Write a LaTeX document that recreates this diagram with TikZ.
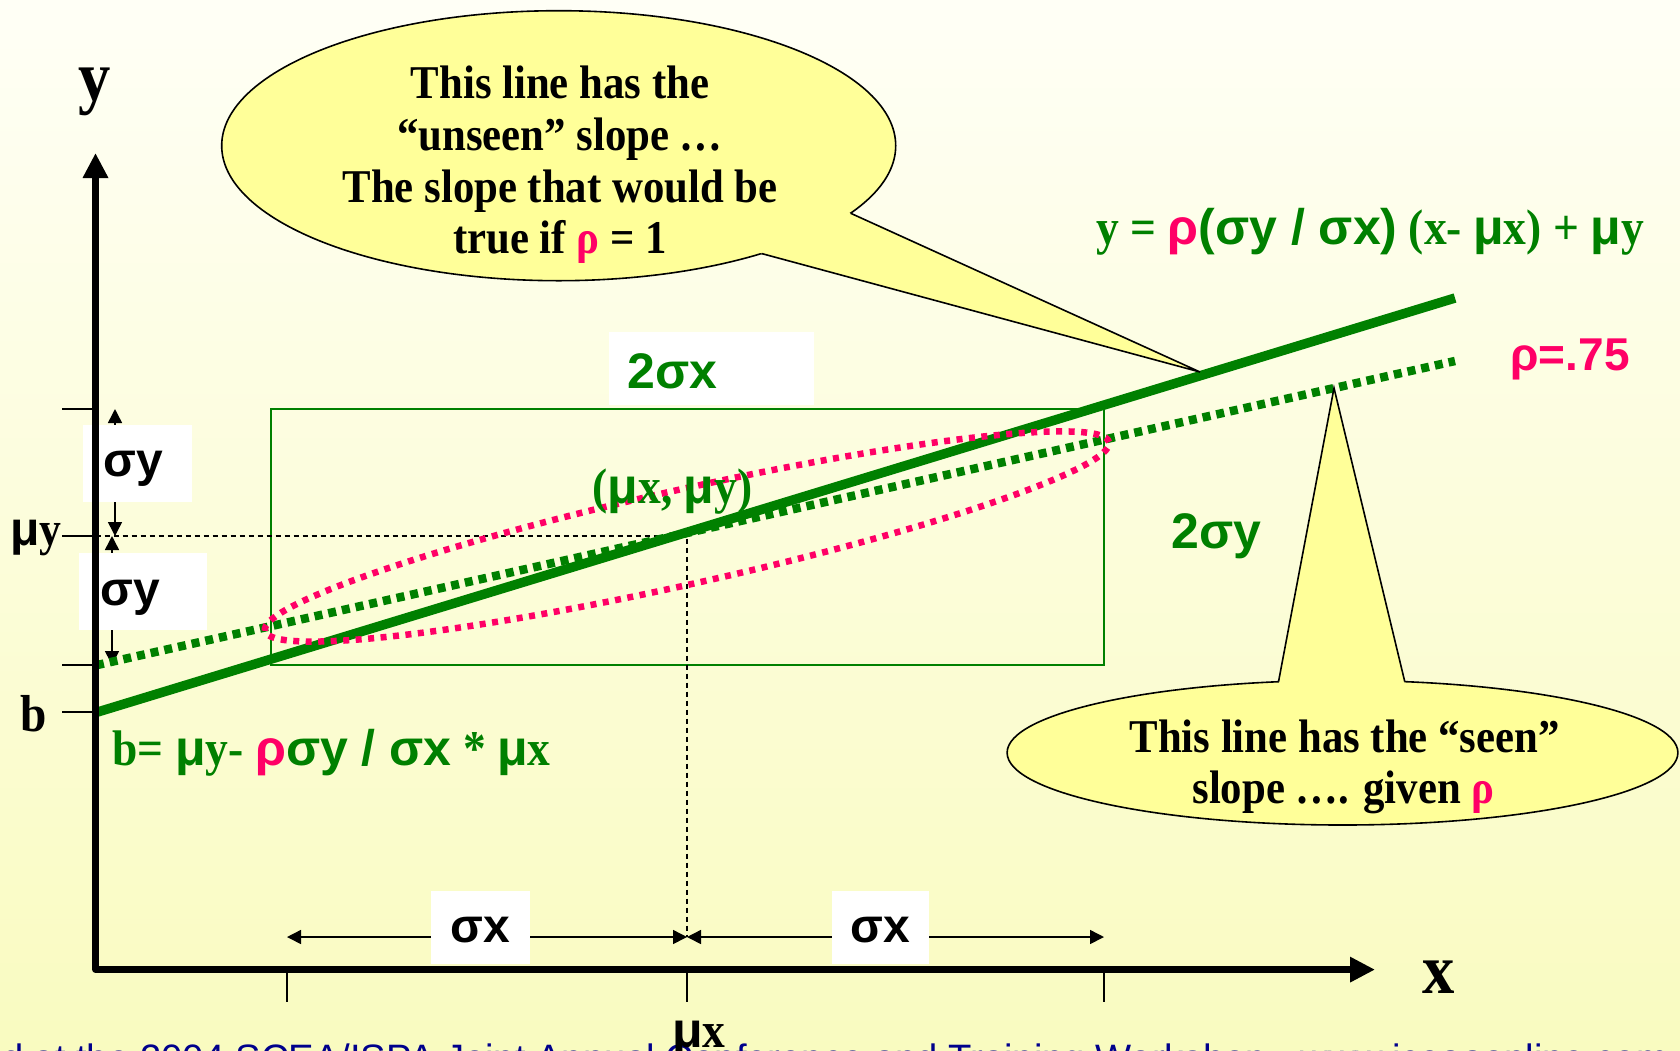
\documentclass[tikz,border=0pt]{standalone}
\usepackage{fontspec}
\setmainfont{Liberation Serif}[FakeStretch=0.91]
\setsansfont{Liberation Sans}
\usetikzlibrary{arrows.meta}
\definecolor{grn}{RGB}{0,128,0}
\definecolor{pnk}{RGB}{255,0,102}
\definecolor{calloutfill}{RGB}{255,255,153}
\definecolor{footblue}{RGB}{0,0,140}
\definecolor{bgtop}{RGB}{255,255,246}
\definecolor{bgbot}{RGB}{249,251,192}
\newcommand\fsz[1]{\fontsize{#1}{#1}\selectfont}
\newcommand\smu{{\sffamily μ}}
\begin{document}
\begin{tikzpicture}[x=1pt,y=-1pt,
  tickline/.style={line width=1.5pt},
  dimarrow/.style={line width=1.5pt,{Triangle[length=14pt,width=14pt]}-{Triangle[length=14pt,width=14pt]}},
  guide/.style={line width=1.4pt,dash pattern=on 5pt off 4pt},
  whitebox/.style={fill=white,draw=none},
  lbl/.style={inner sep=0pt,anchor=base},
  lblw/.style={inner sep=0pt,anchor=base west},
  sanslbl/.style={font=\sffamily\bfseries\fsz{48}},
  greenlbl/.style={text=grn,font=\bfseries\fsz{50}},
  calltext/.style={lbl,font=\bfseries\fsz{47}},
  calloutshape/.style={fill=calloutfill,draw=black,line width=1.6pt},
  axisline/.style={line width=6.5pt,line join=round,{Triangle[length=25pt,width=24pt]}-{Triangle[length=25pt,width=24pt]}},
  solidfit/.style={grn,line width=9.5pt},
  dotfit/.style={grn,line width=8.5pt,dash pattern=on 8pt off 6pt},
  pinkdot/.style={pnk,line width=6.5pt,dash pattern=on 6pt off 6.5pt}
]
\useasboundingbox (0,0) rectangle (1680,1050);
\clip (0,0) rectangle (1680,1050);
\shade[top color=bgtop,bottom color=bgbot] (0,0) rectangle (1680,1050);

% footer
\node[lblw,font=\sffamily\fsz{38.2},text=footblue] (footer) at (-151,1071)
  {Presented at the 2004 SCEA/ISPA Joint Annual Conference and Training Workshop - www.iceaaonline.com};

% coordinates
\coordinate (O) at (95.5,969.6);
\coordinate (ytip) at (95.5,153);
\coordinate (xtip) at (1375,969.6);
\coordinate (m) at (687,536.5);
\coordinate (myax) at (95.5,536);
\coordinate (mx) at (687,536);
\coordinate (mxb) at (687,937);

% green rectangle
\draw[grn,line width=2pt] (271,409) rectangle (1104,665);

% guides
\draw[guide] (myax) -- (mx) -- (mxb);

% sigma x arrows
\coordinate (ax1) at (287,937);
\coordinate (ax2) at (687,937);
\coordinate (ax3) at (1104,937);
\draw[dimarrow] (ax1) -- (ax2);
\draw[dimarrow] (ax2) -- (ax3);
% sigma y arrows
\coordinate (ay1) at (115,409);
\coordinate (ay2) at (115,536);
\coordinate (ay3) at (112,536);
\coordinate (ay4) at (112,665);
\draw[dimarrow] (ay1) -- (ay2);
\draw[dimarrow] (ay3) -- (ay4);

% white boxes and labels
\fill[whitebox] (83.3,425) rectangle (191.7,501.7);
\fill[whitebox] (79,553.3) rectangle (207.3,630);
\fill[whitebox] (430.7,891.4) rectangle (530.4,964.3);
\fill[whitebox] (832,891.4) rectangle (929,964.3);
\fill[whitebox] (609,332) rectangle (814,405);
\node[lblw,sanslbl] (sy1) at (103,476.6) {σy};
\node[lblw,sanslbl] (sy2) at (100,605) {σy};
\node[inner sep=0pt,sanslbl] (sx1) at (480,930) {σx};
\node[inner sep=0pt,sanslbl] (sx2) at (880,930) {σx};
\node[lblw,text=grn,font=\sffamily\bfseries\fsz{50}] (tsx) at (627,388) {2σx};
\node[lblw,text=grn,font=\sffamily\bfseries\fsz{50}] (tsy) at (1171,548.6) {2σy};

% ticks
\coordinate (yt1a) at (62,409); \coordinate (yt1b) at (95.5,409);
\coordinate (yt2a) at (62,536); \coordinate (yt2b) at (95.5,536);
\coordinate (yt3a) at (62,665); \coordinate (yt3b) at (95.5,665);
\coordinate (yt4a) at (62,712); \coordinate (yt4b) at (95.5,712);
\draw[tickline] (yt1a) -- (yt1b);
\draw[tickline] (yt2a) -- (yt2b);
\draw[tickline] (yt3a) -- (yt3b);
\draw[tickline] (yt4a) -- (yt4b);
\coordinate (xt1a) at (287,969.6); \coordinate (xt1b) at (287,1002);
\coordinate (xt2a) at (687,969.6); \coordinate (xt2b) at (687,1002);
\coordinate (xt3a) at (1104,969.6); \coordinate (xt3b) at (1104,1002);
\draw[tickline] (xt1a) -- (xt1b);
\draw[tickline] (xt2a) -- (xt2b);
\draw[tickline] (xt3a) -- (xt3b);

% regression lines and ellipse
\coordinate (sl) at (96,712.5);
\coordinate (sr) at (1455,298);
\coordinate (dl) at (96,665.3);
\coordinate (dr) at (1455,361);
\draw[solidfit] (sl) -- (sr);
\draw[dotfit] (dl) -- (dr);
\draw[pinkdot,rotate around={12.6:(m)}] (m) ellipse [x radius=432.5pt,y radius=47.4pt];

% axes
\draw[axisline] (ytip) -- (O) -- (xtip);

% callout 1
\coordinate (c1) at (558.7,145.7);
\coordinate (t1) at (1200,372);
\path (c1) ++(30:337 and 135) coordinate (c1a);
\path (c1) ++(53:337 and 135) coordinate (c1b);
\draw[calloutshape] (c1) ellipse [x radius=337,y radius=135];
\fill[calloutfill] (c1a) -- (t1) -- (c1b) -- (c1) -- cycle;
\draw[line width=1.6pt] (c1a) -- (t1) -- (c1b);
\node[calltext] (l11) at (560,98.6) {This line has the};
\node[calltext] (l12) at (560,150.3) {“unseen” slope …};
\node[calltext] (l13) at (560,202) {The slope that would be};
\node[calltext] (l14) at (560,253.7) {true if {\color{pnk}ρ} = 1};

% callout 2
\coordinate (c2) at (1342.5,752.7);
\coordinate (t2) at (1334,388);
\path (c2) ++(259:335.4 and 72.3) coordinate (c2a);
\path (c2) ++(280.7:335.4 and 72.3) coordinate (c2b);
\draw[calloutshape] (c2) ellipse [x radius=335.4,y radius=72.3];
\fill[calloutfill] (c2a) -- (t2) -- (c2b) -- (c2) -- cycle;
\draw[line width=1.6pt] (c2a) -- (t2) -- (c2b);
\node[calltext] (l21) at (1344.6,752) {This line has the “seen”};
\node[calltext] (l22) at (1343.5,803.6) {slope …. given {\color{pnk}ρ}};

% formulas and labels
\node[lbl,greenlbl] (feq) at (1370,244)
  {y = {\sffamily{\color{pnk}ρ}(σy / σx)} (x- \smu x) + \smu y};
\node[lbl,text=pnk,font=\sffamily\bfseries\fsz{46}] (rho) at (1570,370.7) {ρ=.75};
\node[lblw,greenlbl] (mean) at (592.5,503) {(\smu x, \smu y)};
\node[lblw,greenlbl] (beq) at (112.5,765)
  {b= \smu y- {\sffamily{\color{pnk}ρ}σy / σx} * \smu x};
\node[lbl,font=\bfseries\fsz{71}] (ylab) at (94.3,100.2) {y};
\node[lbl,font=\bfseries\fsz{71}] (xlab) at (1439,993) {x};
\node[lblw,font=\bfseries\fsz{48}] (muylab) at (10,545) {\smu y};
\node[lbl,font=\bfseries\fsz{52}] (blab) at (34,731) {b};
\node[lbl,font=\bfseries\fsz{50}] (muxlab) at (699,1047) {\smu x};
\end{tikzpicture}
\end{document}
